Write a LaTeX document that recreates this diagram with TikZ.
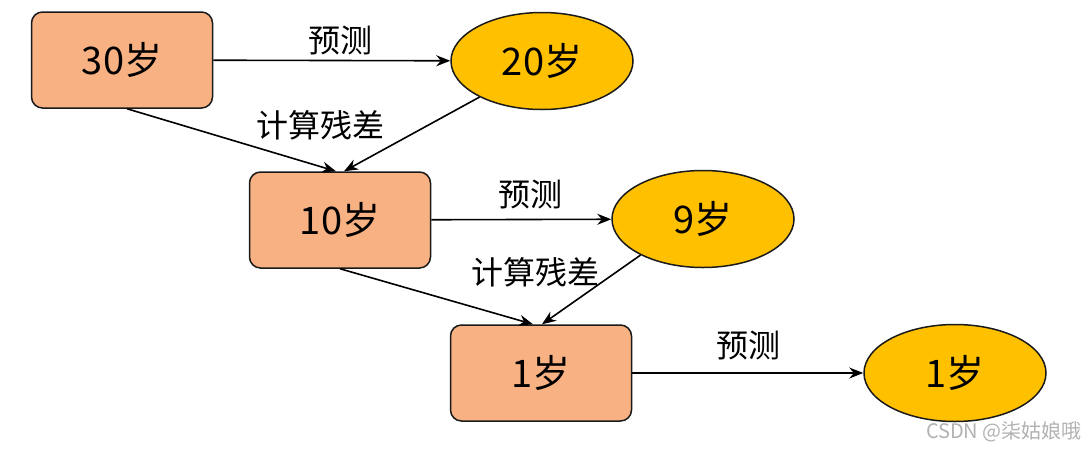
\documentclass[tikz,border=0pt]{standalone}
\usepackage{fontspec}
\setmainfont{Noto Sans CJK SC}
\usetikzlibrary{arrows.meta,shapes.geometric}
\definecolor{boxfill}{HTML}{F8B183}
\definecolor{ellfill}{HTML}{FFC000}
\definecolor{edge}{HTML}{1A1A1A}
\begin{document}
\begin{tikzpicture}[x=1pt,y=-1pt,
  boxnode/.style={draw=edge,line width=1.5pt,fill=boxfill,rounded corners=11pt,
    minimum width=181pt,minimum height=96pt,inner sep=0pt,font=\fontsize{38}{44}\selectfont},
  ellnode/.style={draw=edge,line width=1.5pt,fill=ellfill,ellipse,
    minimum width=182pt,minimum height=97pt,inner sep=0pt,font=\fontsize{38}{44}\selectfont},
  lbl/.style={font=\fontsize{32}{38}\selectfont,inner sep=0pt},
  conn/.style={line width=1.6pt,-{Stealth[length=14pt,width=11pt]}}
]
\useasboundingbox (0,0) rectangle (1092,448);
\fill[white] (0,0) rectangle (1092,448);
\node[boxnode] (b1) at (122,60) {30岁};
\node[ellnode] (e1) at (542,61) {20岁};
\node[boxnode] (b2) at (340,220) {10岁};
\node[ellnode] (e2) at (703,219) {9岁};
\node[boxnode] (b3) at (541,373) {1岁};
\node[ellnode] (e3) at (955,373) {1岁};
\draw[conn] (b1) -- (e1);
\draw[conn] (b2) -- (e2);
\draw[conn] (b3) -- (e3);
\draw[conn] ([xshift=5pt]b1.south) -- ([xshift=-4pt]b2.north);
\draw[conn] (e1.210) -- ([xshift=4pt]b2.north);
\draw[conn] (b2.south) -- ([xshift=-8pt]b3.north);
\draw[conn] (e2.210) -- ([xshift=1pt]b3.north);
\node[lbl] (l1) at (340,40) {预测};
\node[lbl] (l2) at (320,125) {计算残差};
\node[lbl] (l3) at (530,194) {预测};
\node[lbl] (l4) at (535,272) {计算残差};
\node[lbl] (l5) at (748,345) {预测};
\node[font=\fontsize{20}{24}\selectfont,text=gray!60,anchor=east,inner sep=0pt] (wm) at (1082,432) {CSDN @柒姑娘哦};
\end{tikzpicture}
\end{document}
